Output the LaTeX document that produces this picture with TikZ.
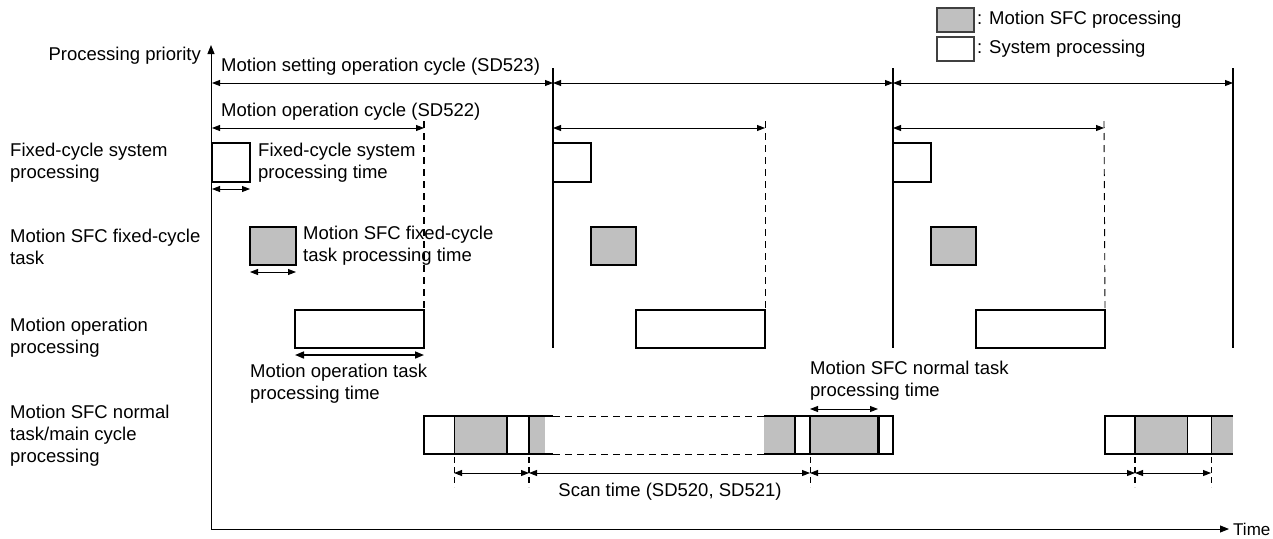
\documentclass[tikz,border=0pt]{standalone}
\usepackage{fontspec}
\setmainfont{Liberation Sans}
\usetikzlibrary{arrows.meta,positioning}
\definecolor{SfcGray}{HTML}{C0C0C0}
\definecolor{KeyEdge}{HTML}{404040}

\begin{document}
\begin{tikzpicture}[x=1pt,y=-1pt,
  every node/.style={font=\fontsize{18.5}{22}\selectfont},
  >={Triangle[length=8pt,width=6pt]},
  txt/.style={align=left,anchor=west,inner sep=0pt},
  sysbox/.style={draw,line width=1.8pt,fill=white,anchor=north west,inner sep=0pt,outer sep=0pt,minimum height=38pt},
  sfcbox/.style={sysbox,fill=SfcGray},
  seg/.style={fill=SfcGray,anchor=north west,inner sep=0pt,outer sep=0pt,minimum height=38pt},
  keybox/.style={draw=KeyEdge,line width=1.2pt,anchor=north west,inner sep=0pt,outer sep=0pt,minimum width=37pt,minimum height=24pt},
  dimline/.style={<->,line width=0.9pt},
  cut/.style={dash pattern=on 7pt off 5pt,line width=0.9pt},
  tick/.style={dash pattern=on 6pt off 4pt,line width=0.9pt}
]
\useasboundingbox (0,0) rectangle (1273,538);

\node[keybox,fill=SfcGray] (keysfc) at (937,8) {};
\node[txt,right=3pt of keysfc] (keysfctxt) {: Motion SFC processing};
\node[keybox,fill=white] (keysys) at (937,37) {};
\node[txt,right=3pt of keysys] (keysystxt) {: System processing};

\coordinate (origin) at (211,529);
\coordinate (ytop) at (211,45);
\coordinate (xend) at (1229,529);
\draw[-{Triangle[length=9pt,width=7pt]},line width=1pt] (origin) -- (ytop);
\draw[-{Triangle[length=9pt,width=7pt]},line width=1pt] (origin) -- (xend);
\node[txt,anchor=east] (prio) at (201,56) {Processing priority};
\node[txt,right=4pt of xend,font=\fontsize{17}{20}\selectfont] (time) {Time};

\node[txt] (lblfix) at (10,163) {Fixed-cycle system\\processing};
\node[txt] (lblsfc) at (10,247) {Motion SFC fixed-cycle\\task};
\node[txt] (lblop) at (10,338) {Motion operation\\processing};
\node[txt] (lblnorm) at (10,436) {Motion SFC normal\\task/main cycle\\processing};

\draw[line width=2pt] (553,68) -- (553,348);
\draw[line width=2pt] (893,68) -- (893,348);
\draw[line width=1.2pt] (1233,68) -- (1233,348);

\node[txt] (setcyc) at (221,67) {Motion setting operation cycle (SD523)};
\draw[dimline] (212,83) -- (553,83);
\draw[dimline] (553,83) -- (893,83);
\draw[dimline] (893,83) -- (1233,83);

\node[txt] (opcyc) at (221,112) {Motion operation cycle (SD522)};
\draw[dimline] (212,128) -- (424,128);
\draw[dimline] (553,128) -- (765,128);
\draw[dimline] (893,128) -- (1104,128);

\node[sysbox,minimum width=38pt,minimum height=39pt] (fix1) at (212,143) {};
\node[sfcbox,minimum width=46pt] (sfc1) at (250,227) {};
\node[sysbox,minimum width=129pt] (op1) at (295,310) {};
\node[sysbox,minimum width=38pt,minimum height=39pt] (fix2) at (553,143) {};
\node[sfcbox,minimum width=45pt] (sfc2) at (591,227) {};
\node[sysbox,minimum width=129pt] (op2) at (636,310) {};
\node[sysbox,minimum width=38pt,minimum height=39pt] (fix3) at (893,143) {};
\node[sfcbox,minimum width=45pt] (sfc3) at (931,227) {};
\node[sysbox,minimum width=129pt] (op3) at (976,310) {};

\draw[cut,line width=1.6pt] (424,121) -- (op1.north east);
\draw[cut] (765,121) -- (op2.north east);
\draw[cut] (1104,121) -- (op3.north east);

\draw[dimline] ([yshift=-7pt]fix1.south west) -- ([yshift=-7pt]fix1.south east);
\node[txt] (fixtime) at (258,163) {Fixed-cycle system\\processing time};
\draw[dimline] ([yshift=-7pt]sfc1.south west) -- ([yshift=-7pt]sfc1.south east);
\node[txt] (sfctime) at (303,246) {Motion SFC fixed-cycle\\task processing time};
\draw[dimline,line width=1.6pt,>={Triangle[length=9pt,width=7pt]}] ([yshift=-7pt]op1.south west) -- ([yshift=-7pt]op1.south east);
\node[txt] (optime) at (250,384) {Motion operation task\\processing time};

\node[seg,minimum width=53pt] (n1a) at (454,416) {};
\node[seg,minimum width=16pt] (n1b) at (529,416) {};
\node[seg,minimum width=31pt] (n2a) at (764,416) {};
\node[seg,minimum width=68pt] (n2b) at (810,416) {};
\node[seg,minimum width=52pt] (n3a) at (1135,416) {};
\node[seg,minimum width=22pt] (n3b) at (1211,416) {};

\draw[line width=1.8pt] (553,416) -- (424,416) -- (424,454) -- (553,454);
\draw[cut] (553,416) -- (764,416);
\draw[cut] (553,454) -- (764,454);
\draw[line width=1.8pt] (764,416) -- (893,416) -- (893,454) -- (764,454);
\draw[line width=1.8pt] (1233,416) -- (1105,416) -- (1105,454) -- (1233,454);
\draw[line width=1pt] (n1a.north west) -- (n1a.south west);
\draw[line width=2pt] (n1a.north east) -- (n1a.south east);
\draw[line width=2pt] (n1b.north west) -- (n1b.south west);
\draw[line width=2pt] (n2a.north east) -- (n2a.south east);
\draw[line width=1.4pt] (n2b.north west) -- (n2b.south west);
\draw[line width=3pt] (n2b.north east) -- (n2b.south east);
\draw[line width=1.4pt] (n3a.north west) -- (n3a.south west);
\draw[line width=1pt] (n3a.north east) -- (n3a.south east);
\draw[line width=1pt] (n3b.north west) -- (n3b.south west);

\draw[dimline] ([yshift=7pt]n2b.north west) -- ([yshift=7pt]n2b.north east);
\node[txt] (normtime) at (810,381) {Motion SFC normal task\\processing time};

\coordinate (t1) at (454,473);
\coordinate (t2) at (529,473);
\coordinate (t3) at (810,473);
\coordinate (t4) at (1135,473);
\coordinate (t5) at (1211,473);
\draw[tick] (454,457) -- (454,487);
\draw[tick,line width=1.8pt] (529,457) -- (529,487);
\draw[tick] (810,457) -- (810,487);
\draw[tick,line width=1.8pt] (1135,457) -- (1135,487);
\draw[tick] (1211,457) -- (1211,487);
\draw[dimline] (t1) -- (t2);
\draw[dimline] (t2) -- (t3);
\draw[dimline] (t3) -- (t4);
\draw[dimline] (t4) -- (t5);
\node (scan) at (670,492) {Scan time (SD520, SD521)};
\end{tikzpicture}
\end{document}
